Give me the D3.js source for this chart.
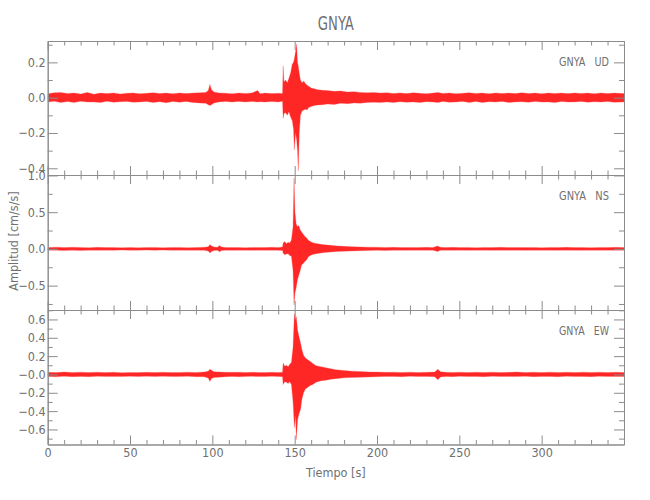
<!DOCTYPE html>
<html><head><meta charset="utf-8">
<script src="https://cdn.jsdelivr.net/npm/d3@7"></script>
<style>
body{margin:0;background:#fff}
text{font-family:"Liberation Sans Narrow","DejaVu Sans Condensed","Liberation Sans",sans-serif}
</style>
</head><body>
<svg id="c" width="650" height="500"></svg>
<script>
// ---------------- data ----------------
const station = "GNYA";
const components = ["UD", "NS", "EW"];
const xLabel = "Tiempo [s]";
const yLabel = "Amplitud [cm/s/s]";
const xTicks = [0, 50, 100, 150, 200, 250, 300];
const xTickLabels = ["0", "50", "100", "150", "200", "250", "300"];
const xMinorTicks = d3.range(0, 351, 10);

const udTicks = [-0.4, -0.2, 0.0, 0.2];
const udTickLabels = ["\u22120.4", "\u22120.2", "0.0", "0.2"];
const udMinorTicks = [-0.3, -0.1, 0.1, 0.3];
const nsTicks = [-0.5, 0.0, 0.5, 1.0];
const nsTickLabels = ["\u22120.5", "0.0", "0.5", "1.0"];
const nsMinorTicks = [-0.75, -0.25, 0.25, 0.75];
const ewTicks = [-0.6, -0.4, -0.2, 0.0, 0.2, 0.4, 0.6];
const ewTickLabels = ["\u22120.6", "\u22120.4", "\u22120.2", "\u22120.0", "0.2", "0.4", "0.6"];
const ewMinorTicks = [-0.7, -0.5, -0.3, -0.1, 0.1, 0.3, 0.5, 0.7];

// envelope of each trace: [time s, max amplitude, min amplitude]
const udEnvelope = [[0,0.022,-0.025],[4,0.028,-0.02],[8,0.03,-0.028],[12,0.024,-0.022],[16,0.027,-0.027],[20,0.021,-0.02],[24,0.03,-0.025],[28,0.02,-0.024],[32,0.026,-0.028],[36,0.023,-0.02],[40,0.027,-0.026],[44,0.021,-0.023],[48,0.025,-0.021],[52,0.027,-0.026],[56,0.022,-0.024],[60,0.025,-0.022],[64,0.028,-0.027],[68,0.024,-0.023],[72,0.026,-0.029],[76,0.022,-0.022],[80,0.027,-0.026],[84,0.023,-0.021],[88,0.026,-0.027],[92,0.028,-0.03],[96,0.03,-0.032],[97.5,0.04,-0.04],[98.5,0.075,-0.045],[99.5,0.045,-0.04],[101,0.032,-0.03],[104,0.027,-0.024],[108,0.025,-0.022],[112,0.022,-0.025],[116,0.026,-0.021],[120,0.024,-0.024],[124,0.027,-0.022],[127.5,0.04,-0.024],[129,0.022,-0.023],[132,0.026,-0.025],[136,0.023,-0.022],[140,0.025,-0.024],[142.6,0.024,-0.02],[143,0.18,-0.117],[143.5,0.09,-0.09],[144.5,0.1,-0.085],[145.5,0.085,-0.1],[146.5,0.11,-0.08],[147.5,0.14,-0.11],[148.5,0.19,-0.13],[149.3,0.2,-0.18],[149.8,0.22,-0.296],[150.5,0.26,-0.2],[151.2,0.304,-0.24],[151.7,0.2,-0.3],[152.2,0.18,-0.415],[152.8,0.14,-0.2],[153.5,0.1,-0.1],[154.5,0.085,-0.075],[155.5,0.095,-0.07],[156.5,0.08,-0.065],[157.5,0.07,-0.07],[158.5,0.065,-0.055],[160,0.055,-0.05],[162,0.05,-0.045],[164,0.045,-0.042],[167,0.042,-0.04],[170,0.04,-0.036],[174,0.036,-0.038],[178,0.038,-0.032],[182,0.032,-0.034],[186,0.034,-0.03],[190,0.03,-0.031],[194,0.028,-0.028],[198,0.03,-0.026],[202,0.026,-0.028],[206,0.028,-0.024],[210,0.024,-0.027],[214,0.027,-0.023],[218,0.023,-0.026],[222,0.028,-0.024],[226,0.025,-0.027],[230,0.022,-0.023],[234,0.026,-0.025],[237,0.03,-0.028],[240,0.024,-0.022],[244,0.027,-0.026],[248,0.022,-0.024],[252,0.025,-0.021],[256,0.028,-0.027],[260,0.024,-0.022],[264,0.026,-0.028],[268,0.022,-0.023],[272,0.027,-0.025],[276,0.024,-0.021],[280,0.026,-0.027],[284,0.023,-0.024],[288,0.028,-0.023],[292,0.024,-0.026],[296,0.026,-0.022],[300,0.022,-0.025],[304,0.027,-0.024],[308,0.024,-0.028],[312,0.026,-0.022],[316,0.023,-0.025],[320,0.027,-0.024],[324,0.024,-0.021],[328,0.026,-0.026],[332,0.022,-0.023],[336,0.027,-0.025],[340,0.024,-0.022],[344,0.026,-0.026],[350,0.023,-0.024]];

const nsEnvelope = [[0,0.02,-0.018],[5,0.024,-0.02],[10,0.018,-0.022],[15,0.022,-0.017],[20,0.02,-0.021],[25,0.017,-0.018],[30,0.021,-0.02],[35,0.018,-0.017],[40,0.02,-0.02],[45,0.017,-0.016],[50,0.019,-0.019],[55,0.016,-0.017],[60,0.018,-0.016],[65,0.02,-0.019],[70,0.017,-0.016],[75,0.018,-0.018],[80,0.02,-0.017],[85,0.017,-0.019],[90,0.019,-0.018],[95,0.022,-0.02],[97.5,0.03,-0.03],[98.5,0.06,-0.055],[99.5,0.04,-0.035],[101,0.025,-0.022],[103,0.022,-0.02],[104.5,0.045,-0.04],[105.5,0.025,-0.022],[108,0.02,-0.018],[112,0.018,-0.02],[116,0.02,-0.017],[120,0.017,-0.018],[124,0.019,-0.02],[128,0.02,-0.017],[132,0.018,-0.019],[136,0.021,-0.018],[140,0.02,-0.02],[142.6,0.025,-0.022],[143,0.08,-0.06],[144,0.1,-0.08],[145,0.07,-0.07],[146,0.09,-0.065],[147,0.08,-0.09],[148,0.12,-0.1],[149,0.3,-0.3],[149.6,0.965,-0.764],[150.2,0.5,-0.6],[150.9,0.34,-0.53],[151.7,0.3,-0.42],[152.5,0.32,-0.36],[153.3,0.26,-0.3],[154.2,0.23,-0.22],[155.2,0.2,-0.2],[156.2,0.17,-0.17],[157.2,0.15,-0.15],[158.2,0.12,-0.11],[159.5,0.1,-0.09],[161,0.085,-0.075],[163,0.075,-0.065],[165,0.065,-0.06],[168,0.055,-0.05],[172,0.048,-0.042],[176,0.04,-0.036],[180,0.035,-0.032],[185,0.03,-0.028],[190,0.027,-0.025],[195,0.024,-0.023],[200,0.022,-0.02],[205,0.02,-0.021],[210,0.021,-0.018],[215,0.018,-0.02],[220,0.02,-0.019],[225,0.019,-0.017],[230,0.021,-0.02],[234,0.02,-0.018],[236.7,0.04,-0.035],[238.5,0.022,-0.02],[242,0.019,-0.018],[246,0.021,-0.02],[250,0.018,-0.017],[255,0.02,-0.02],[260,0.017,-0.018],[265,0.02,-0.017],[270,0.018,-0.02],[275,0.021,-0.018],[280,0.019,-0.019],[285,0.02,-0.017],[290,0.018,-0.02],[295,0.02,-0.018],[300,0.017,-0.019],[305,0.02,-0.018],[310,0.019,-0.02],[315,0.021,-0.017],[320,0.018,-0.019],[325,0.02,-0.02],[330,0.017,-0.018],[335,0.02,-0.019],[340,0.019,-0.017],[345,0.021,-0.02],[350,0.018,-0.018]];

const ewEnvelope = [[0,0.025,-0.022],[5,0.02,-0.026],[10,0.027,-0.02],[15,0.022,-0.024],[20,0.025,-0.021],[25,0.021,-0.025],[30,0.024,-0.02],[35,0.02,-0.023],[40,0.023,-0.021],[45,0.019,-0.022],[50,0.022,-0.02],[55,0.02,-0.023],[60,0.023,-0.019],[65,0.021,-0.022],[70,0.024,-0.02],[75,0.02,-0.021],[80,0.022,-0.023],[85,0.025,-0.02],[90,0.022,-0.024],[95,0.026,-0.025],[97.5,0.035,-0.04],[98.5,0.058,-0.076],[99.5,0.045,-0.045],[101,0.03,-0.032],[104,0.028,-0.03],[108,0.025,-0.025],[112,0.023,-0.021],[116,0.025,-0.024],[120,0.021,-0.022],[124,0.024,-0.02],[128,0.022,-0.023],[132,0.02,-0.021],[136,0.023,-0.02],[140,0.021,-0.022],[142.6,0.025,-0.024],[143,0.124,-0.11],[144,0.09,-0.08],[145,0.1,-0.085],[146,0.085,-0.1],[147,0.11,-0.08],[148,0.13,-0.11],[149,0.3,-0.3],[149.8,0.667,-0.58],[150.5,0.6,-0.45],[151,0.63,-0.71],[151.8,0.48,-0.49],[152.8,0.4,-0.42],[153.6,0.34,-0.38],[154.4,0.27,-0.27],[155.4,0.21,-0.2],[156.5,0.18,-0.16],[158,0.16,-0.14],[159.5,0.14,-0.12],[161,0.12,-0.11],[163,0.095,-0.085],[166,0.085,-0.07],[169,0.072,-0.062],[172,0.062,-0.052],[175,0.052,-0.046],[180,0.042,-0.036],[185,0.036,-0.032],[190,0.032,-0.03],[195,0.028,-0.027],[200,0.026,-0.025],[205,0.024,-0.022],[210,0.025,-0.021],[215,0.022,-0.024],[220,0.025,-0.02],[225,0.021,-0.023],[230,0.024,-0.021],[235,0.026,-0.024],[237,0.058,-0.058],[238.5,0.03,-0.028],[242,0.024,-0.022],[246,0.022,-0.024],[250,0.025,-0.02],[255,0.021,-0.023],[260,0.024,-0.021],[265,0.022,-0.024],[270,0.025,-0.02],[275,0.021,-0.022],[280,0.023,-0.021],[285,0.026,-0.023],[290,0.022,-0.02],[295,0.024,-0.024],[300,0.021,-0.021],[305,0.025,-0.022],[310,0.022,-0.025],[315,0.024,-0.02],[320,0.021,-0.023],[325,0.025,-0.021],[330,0.022,-0.024],[335,0.024,-0.02],[340,0.021,-0.022],[345,0.025,-0.023],[350,0.022,-0.021]];

// ---------------- layout ----------------
const FONT = '"Liberation Sans Narrow","DejaVu Sans Condensed","Liberation Sans",sans-serif';
const AX = "#8c8c8c", TX = "#707070";
const L = 47.7, R = 624;
const panelEdges = [41, 175, 310, 444.5];
const svg = d3.select("#c");
const x = d3.scaleLinear().domain([0, 350]).range([L, R]);

const panels = [
  {comp: components[0], env: udEnvelope, dom: [-0.438, 0.321], ticks: udTicks, labels: udTickLabels, minor: udMinorTicks},
  {comp: components[1], env: nsEnvelope, dom: [-0.832, 1.006], ticks: nsTicks, labels: nsTickLabels, minor: nsMinorTicks},
  {comp: components[2], env: ewEnvelope, dom: [-0.764, 0.703], ticks: ewTicks, labels: ewTickLabels, minor: ewMinorTicks}
];

function styleAxis(g) {
  g.attr("color", AX).attr("font-family", FONT).attr("font-size", 12.5);
  g.selectAll("text").attr("fill", TX);
  g.selectAll("path.domain, line").attr("stroke-width", 1);
}

panels.forEach((p, i) => {
  const top = panelEdges[i], bot = panelEdges[i + 1];
  const y = d3.scaleLinear().domain(p.dom).range([bot, top]);

  svg.append("clipPath").attr("id", "clip" + i)
    .append("rect").attr("x", L).attr("y", top).attr("width", R - L).attr("height", bot - top);

  const area = d3.area().x(d => x(d[0])).y0(d => y(d[2])).y1(d => y(d[1]));
  svg.append("path").datum(p.env)
    .attr("clip-path", `url(#clip${i})`)
    .attr("d", area)
    .attr("fill", "#ff0000").attr("fill-opacity", 0.85)
    .attr("stroke", "#ff5a5a").attr("stroke-width", 0.6).attr("stroke-opacity", 0.5);

  // left axis
  svg.append("g").attr("transform", `translate(${L},0)`)
    .call(d3.axisLeft(y).tickValues(p.ticks).tickFormat((d, k) => p.labels[k]).tickSizeInner(-10).tickSizeOuter(0).tickPadding(2))
    .call(styleAxis);
  svg.append("g").attr("transform", `translate(${L},0)`)
    .call(d3.axisLeft(y).tickValues(p.minor).tickFormat("").tickSizeInner(-5).tickSizeOuter(0))
    .call(styleAxis);
  // right axis
  svg.append("g").attr("transform", `translate(${R},0)`)
    .call(d3.axisRight(y).tickValues(p.ticks).tickFormat("").tickSizeInner(-10).tickSizeOuter(0))
    .call(styleAxis);
  svg.append("g").attr("transform", `translate(${R},0)`)
    .call(d3.axisRight(y).tickValues(p.minor).tickFormat("").tickSizeInner(-5).tickSizeOuter(0))
    .call(styleAxis);
  // top axis
  svg.append("g").attr("transform", `translate(0,${top})`)
    .call(d3.axisTop(x).tickValues(xTicks).tickFormat("").tickSizeInner(-9).tickSizeOuter(0))
    .call(styleAxis);
  svg.append("g").attr("transform", `translate(0,${top})`)
    .call(d3.axisTop(x).tickValues(xMinorTicks.filter(v => v % 50 !== 0)).tickFormat("").tickSizeInner(-4.5).tickSizeOuter(0))
    .call(styleAxis);
  // bottom axis
  const last = i === panels.length - 1;
  svg.append("g").attr("transform", `translate(0,${bot})`)
    .call(d3.axisBottom(x).tickValues(xTicks).tickFormat((d, k) => last ? xTickLabels[k] : "").tickSizeInner(-9).tickSizeOuter(0).tickPadding(4))
    .call(styleAxis);
  svg.append("g").attr("transform", `translate(0,${bot})`)
    .call(d3.axisBottom(x).tickValues(xMinorTicks.filter(v => v % 50 !== 0)).tickFormat("").tickSizeInner(-4.5).tickSizeOuter(0))
    .call(styleAxis);

  // component label
  svg.append("text")
    .attr("x", R - 15).attr("y", top + 24.5)
    .attr("text-anchor", "end").attr("font-size", 12.5).attr("fill", TX)
    .attr("textLength", 50).attr("lengthAdjust", "spacingAndGlyphs")
    .style("white-space", "pre")
    .text(`${station}   ${p.comp}`);
});

// title and axis labels
svg.append("text").attr("x", (L + R) / 2).attr("y", 30)
  .attr("text-anchor", "middle").attr("font-size", 20).attr("fill", TX)
  .attr("textLength", 36).attr("lengthAdjust", "spacingAndGlyphs")
  .text(station);
svg.append("text").attr("x", (L + R) / 2).attr("y", 477)
  .attr("text-anchor", "middle").attr("font-size", 12.5).attr("fill", TX)
  .text(xLabel);
svg.append("text").attr("transform", "translate(18,241) rotate(-90)")
  .attr("text-anchor", "middle").attr("font-size", 12.5).attr("fill", TX)
  .text(yLabel);
</script>
</body></html>
